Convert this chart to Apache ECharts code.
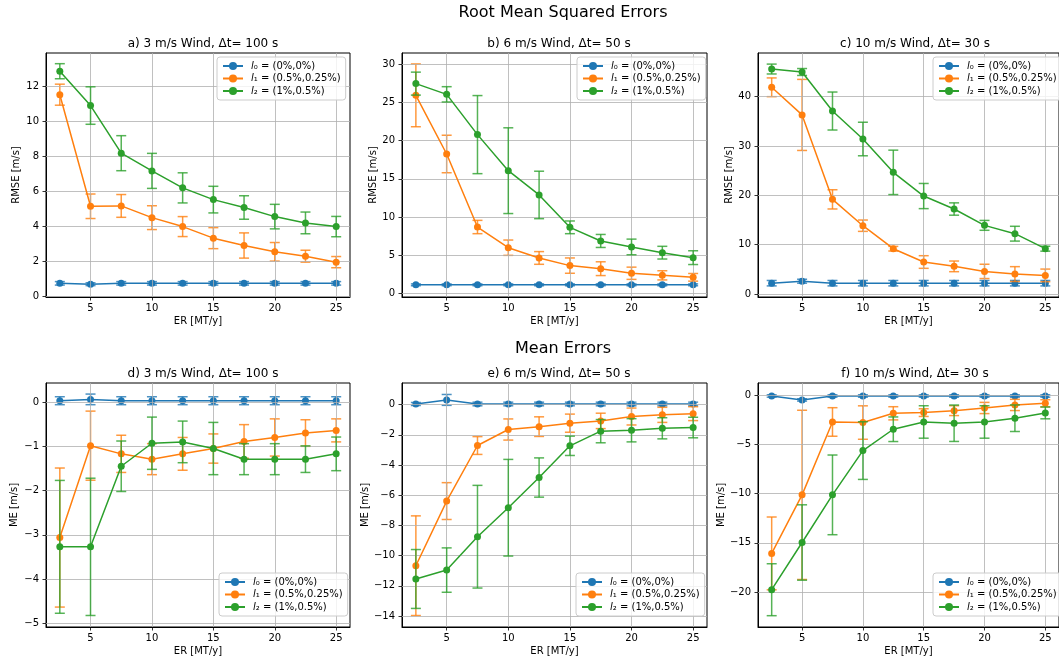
<!DOCTYPE html>
<html><head><meta charset="utf-8">
<script src="https://cdn.jsdelivr.net/npm/echarts@6/dist/echarts.min.js"></script>
<style>html,body{margin:0;padding:0;background:#fff}#c{width:1059px;height:666px}</style>
</head><body><div id="c"></div>
<script>
const ER = [2.5, 5, 7.5, 10, 12.5, 15, 17.5, 20, 22.5, 25];
const xTicks = [5, 10, 15, 20, 25];

// a) RMSE 3 m/s
const a_l0 = [0.75, 0.70, 0.75, 0.75, 0.75, 0.75, 0.75, 0.75, 0.75, 0.75];
const a_l0_err = [0.1, 0.08, 0.1, 0.1, 0.1, 0.1, 0.1, 0.1, 0.1, 0.1];
const a_l1 = [11.52, 5.15, 5.17, 4.5, 3.99, 3.33, 2.91, 2.55, 2.3, 1.96];
const a_l1_err = [0.6, 0.7, 0.65, 0.68, 0.57, 0.6, 0.72, 0.53, 0.34, 0.32];
const a_l2 = [12.86, 10.9, 8.18, 7.17, 6.2, 5.53, 5.08, 4.56, 4.2, 3.99];
const a_l2_err = [0.43, 1.07, 1.0, 1.0, 0.86, 0.76, 0.67, 0.7, 0.62, 0.58];
const aTicks = [0, 2, 4, 6, 8, 10, 12];

// b) RMSE 6 m/s
const b_l0 = [1.15, 1.15, 1.15, 1.15, 1.15, 1.15, 1.15, 1.15, 1.15, 1.15];
const b_l0_err = [0.12, 0.12, 0.12, 0.12, 0.12, 0.12, 0.12, 0.12, 0.12, 0.12];
const b_l1 = [25.9, 18.24, 8.7, 6.0, 4.66, 3.66, 3.26, 2.66, 2.39, 2.13];
const b_l1_err = [4.1, 2.45, 0.87, 1.0, 0.83, 1.0, 0.9, 0.8, 0.6, 0.5];
const b_l2 = [27.43, 26.03, 20.77, 16.06, 12.89, 8.66, 6.88, 6.1, 5.35, 4.7];
const b_l2_err = [1.5, 1.0, 5.1, 5.6, 3.1, 0.83, 0.85, 1.02, 0.83, 0.9];
const bTicks = [0, 5, 10, 15, 20, 25, 30];

// c) RMSE 10 m/s
const c_l0 = [2.2, 2.6, 2.2, 2.2, 2.2, 2.2, 2.2, 2.2, 2.2, 2.2];
const c_l0_err = [0.55, 0.4, 0.55, 0.55, 0.55, 0.55, 0.55, 0.55, 0.55, 0.55];
const c_l1 = [41.9, 36.3, 19.19, 13.85, 9.19, 6.49, 5.61, 4.59, 4.05, 3.78];
const c_l1_err = [1.9, 7.2, 1.95, 1.15, 0.47, 1.28, 1.08, 1.45, 1.5, 1.28];
const c_l2 = [45.6, 45.0, 37.09, 31.42, 24.66, 19.86, 17.23, 13.92, 12.23, 9.19];
const c_l2_err = [1.0, 0.7, 3.85, 3.4, 4.5, 2.55, 1.25, 1.0, 1.5, 0.5];
const cTicks = [0, 10, 20, 30, 40];

// d) ME 3 m/s
const d_l0 = [0.03, 0.06, 0.03, 0.03, 0.03, 0.03, 0.03, 0.03, 0.03, 0.03];
const d_l0_err = [0.09, 0.12, 0.09, 0.09, 0.09, 0.09, 0.09, 0.09, 0.09, 0.09];
const d_l1 = [-3.06, -0.985, -1.17, -1.29, -1.17, -1.05, -0.89, -0.80, -0.70, -0.64];
const d_l1_err = [1.57, 0.78, 0.42, 0.35, 0.37, 0.33, 0.38, 0.42, 0.3, 0.26];
const d_l2 = [-3.27, -3.27, -1.45, -0.93, -0.90, -1.05, -1.29, -1.29, -1.29, -1.17];
const d_l2_err = [1.5, 1.55, 0.57, 0.59, 0.47, 0.59, 0.35, 0.35, 0.3, 0.38];
const dTicks = [-5, -4, -3, -2, -1, 0];

// e) ME 6 m/s
const e_l0 = [0.04, 0.31, 0.04, 0.04, 0.04, 0.04, 0.04, 0.04, 0.04, 0.04];
const e_l0_err = [0.1, 0.36, 0.12, 0.12, 0.12, 0.12, 0.12, 0.12, 0.12, 0.12];
const e_l1 = [-10.67, -6.39, -2.71, -1.65, -1.46, -1.23, -1.08, -0.79, -0.68, -0.6];
const e_l1_err = [3.3, 1.22, 0.59, 0.7, 0.65, 0.6, 0.51, 0.56, 0.5, 0.46];
const e_l2 = [-11.55, -10.96, -8.75, -6.83, -4.83, -2.73, -1.76, -1.7, -1.57, -1.52];
const e_l2_err = [1.95, 1.47, 3.4, 3.2, 1.3, 0.64, 0.77, 0.77, 0.7, 0.68];
const eTicks = [-14, -12, -10, -8, -6, -4, -2, 0];

// f) ME 10 m/s
const f_l0 = [-0.07, -0.47, -0.07, -0.07, -0.07, -0.07, -0.07, -0.07, -0.07, -0.07];
const f_l0_err = [0.12, 0.12, 0.12, 0.12, 0.12, 0.12, 0.12, 0.12, 0.12, 0.12];
const f_l1 = [-16.07, -10.12, -2.71, -2.77, -1.83, -1.76, -1.56, -1.29, -0.98, -0.81];
const f_l1_err = [3.7, 8.6, 1.45, 1.7, 0.67, 0.39, 0.5, 0.57, 0.57, 0.36];
const f_l2 = [-19.76, -14.96, -10.12, -5.62, -3.45, -2.71, -2.84, -2.71, -2.33, -1.79];
const f_l2_err = [2.64, 3.83, 4.05, 2.93, 1.25, 1.65, 1.85, 1.65, 1.35, 0.6];
const fTicks = [-20, -15, -10, -5, 0];

const seriesNames = ['l0', 'l1', 'l2'];
const legendLabels = {l0: '{i|l}₀ = (0%,0%)', l1: '{i|l}₁ = (0.5%,0.25%)', l2: '{i|l}₂ = (1%,0.5%)'};
const colors = ['#1f77b4', '#ff7f0e', '#2ca02c'];
const FONT = 'DejaVu Sans';

const panels = [
  {title: 'a) 3 m/s Wind, Δt= 100 s', yname: 'RMSE [m/s]', series: [[a_l0, a_l0_err], [a_l1, a_l1_err], [a_l2, a_l2_err]], ticks: aTicks, min: -0.03, max: 13.9, left: 46, top: 53, w: 304, nameGap: 25, legTop: 57, legLeft: 217},
  {title: 'b) 6 m/s Wind, Δt= 50 s', yname: 'RMSE [m/s]', series: [[b_l0, b_l0_err], [b_l1, b_l1_err], [b_l2, b_l2_err]], ticks: bTicks, min: -0.44, max: 31.43, left: 402, top: 53, w: 305, nameGap: 24, legTop: 57, legLeft: 577},
  {title: 'c) 10 m/s Wind, Δt= 30 s', yname: 'RMSE [m/s]', series: [[c_l0, c_l0_err], [c_l1, c_l1_err], [c_l2, c_l2_err]], ticks: cTicks, min: -0.6, max: 48.85, left: 758, top: 53, w: 305, nameGap: 24, legTop: 57, legLeft: 933},
  {title: 'd) 3 m/s Wind, Δt= 100 s', yname: 'ME [m/s]', series: [[d_l0, d_l0_err], [d_l1, d_l1_err], [d_l2, d_l2_err]], ticks: dTicks, min: -5.08, max: 0.43, left: 46, top: 383, w: 304, nameGap: 27, legTop: 573, legLeft: 219},
  {title: 'e) 6 m/s Wind, Δt= 50 s', yname: 'ME [m/s]', series: [[e_l0, e_l0_err], [e_l1, e_l1_err], [e_l2, e_l2_err]], ticks: eTicks, min: -14.73, max: 1.43, left: 402, top: 383, w: 305, nameGap: 32, legTop: 573, legLeft: 576},
  {title: 'f) 10 m/s Wind, Δt= 30 s', yname: 'ME [m/s]', series: [[f_l0, f_l0_err], [f_l1, f_l1_err], [f_l2, f_l2_err]], ticks: fTicks, min: -23.55, max: 1.25, left: 758, top: 383, w: 305, nameGap: 32, legTop: 573, legLeft: 933}
];

const fmt = v => String(v).replace('-', '\u2212');

const option = {
  backgroundColor: '#fff',
  animation: false,
  textStyle: {fontFamily: FONT},
  title: [
    {text: 'Root Mean Squared Errors', left: 558, top: 0, textAlign: 'center', textStyle: {fontFamily: FONT, fontSize: 16, fontWeight: 'normal', color: '#000'}},
    {text: 'Mean Errors', left: 558, top: 336, textAlign: 'center', textStyle: {fontFamily: FONT, fontSize: 16, fontWeight: 'normal', color: '#000'}}
  ],
  grid: [], xAxis: [], yAxis: [], series: [], legend: []
};

panels.forEach((p, i) => {
  option.title.push({text: p.title, left: p.left + 152, top: p.top - 20, textAlign: 'center',
    textStyle: {fontFamily: FONT, fontSize: 12, fontWeight: 'normal', color: '#000'}});
  option.grid.push({left: p.left, top: p.top, width: p.w, height: 244, show: true, borderColor: '#000', borderWidth: 1, backgroundColor: 'transparent', containLabel: false});
  option.xAxis.push({type: 'value', gridIndex: i, min: 1.375, max: 26.125,
    name: 'ER [MT/y]', nameLocation: 'middle', nameGap: 19,
    nameTextStyle: {fontFamily: FONT, fontSize: 10, color: '#000'},
    axisLine: {show: true, onZero: false, lineStyle: {color: '#000', width: 1}},
    axisTick: {show: true, length: 3.5, lineStyle: {color: '#000', width: 0.8}, customValues: xTicks},
    axisLabel: {fontFamily: FONT, fontSize: 10, color: '#000', margin: 6, customValues: xTicks, formatter: fmt},
    splitLine: {show: false}
  });
  option.yAxis.push({type: 'value', gridIndex: i, min: p.min, max: p.max,
    name: p.yname, nameLocation: 'middle', nameGap: p.nameGap, nameRotate: 90,
    nameTextStyle: {fontFamily: FONT, fontSize: 10, color: '#000'},
    axisLine: {show: true, onZero: false, lineStyle: {color: '#000', width: 1}},
    axisTick: {show: true, length: 3.5, lineStyle: {color: '#000', width: 0.8}, customValues: p.ticks},
    axisLabel: {fontFamily: FONT, fontSize: 10, color: '#000', margin: 7, customValues: p.ticks, formatter: fmt},
    splitLine: {show: false}
  });
  // grid lines at the tick positions
  option.series.push({
    type: 'line', name: 'grid' + i, xAxisIndex: i, yAxisIndex: i, z: 1, data: [],
    markLine: {silent: true, symbol: ['none', 'none'], animation: false, label: {show: false},
      lineStyle: {color: '#b0b0b0', width: 0.8, type: 'solid'},
      emphasis: {disabled: true},
      data: xTicks.map(v => ({xAxis: v})).concat(p.ticks.map(v => ({yAxis: v})))}
  });
  p.series.forEach((s, k) => {
    const vals = s[0], errs = s[1];
    const color = colors[k];
    option.series.push({
      type: 'custom', name: 'err' + k, xAxisIndex: i, yAxisIndex: i, z: 2 + k * 2,
      encode: {x: 0, y: 1},
      data: ER.map((x, j) => [x, vals[j], errs[j]]),
      renderItem: function (params, api) {
        const x = api.value(0), y = api.value(1), e = api.value(2);
        const t = api.coord([x, y + e]), b = api.coord([x, y - e]);
        const st = {stroke: color, lineWidth: 1.5, opacity: 0.8};
        return {type: 'group', children: [
          {type: 'line', shape: {x1: t[0], y1: t[1], x2: b[0], y2: b[1]}, style: st},
          {type: 'line', shape: {x1: t[0] - 5, y1: t[1], x2: t[0] + 5, y2: t[1]}, style: st},
          {type: 'line', shape: {x1: b[0] - 5, y1: b[1], x2: b[0] + 5, y2: b[1]}, style: st}
        ]};
      }
    });
    option.series.push({
      type: 'line', name: seriesNames[k], xAxisIndex: i, yAxisIndex: i, z: 3 + k * 2,
      data: ER.map((x, j) => [x, vals[j]]),
      symbol: 'circle', symbolSize: 7, showSymbol: true,
      lineStyle: {color: color, width: 1.5}, itemStyle: {color: color}
    });
  });
  option.legend.push({
    data: seriesNames, orient: 'vertical', left: p.legLeft, top: p.legTop,
    itemWidth: 20, itemHeight: 10, itemGap: 2.5, padding: [4, 5, 4, 5],
    backgroundColor: 'rgba(255,255,255,0.8)', borderColor: '#cccccc', borderWidth: 1, borderRadius: 3,
    formatter: n => legendLabels[n],
    textStyle: {fontFamily: FONT, fontSize: 10, color: '#000', padding: [0, 0, 0, 3], rich: {i: {fontFamily: FONT, fontSize: 10, fontStyle: 'italic', color: '#000'}}},
    selectedMode: false, z: 20
  });
});

const chart = echarts.init(document.getElementById('c'), null, {renderer: 'canvas'});
chart.setOption(option);
</script>
</body></html>
